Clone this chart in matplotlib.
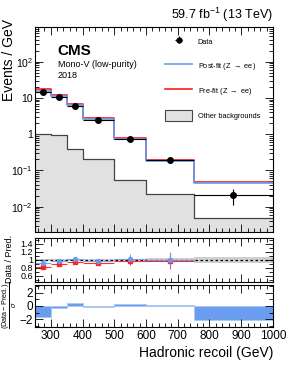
import matplotlib
matplotlib.use("Agg")
import matplotlib.pyplot as plt
import numpy as np
from matplotlib.ticker import FixedLocator, FuncFormatter, MultipleLocator, LogLocator, NullFormatter
from matplotlib.lines import Line2D
from matplotlib.patches import Patch

# bins in hadronic recoil (GeV)
edges = [250, 300, 350, 400, 500, 600, 750, 1000]

data = [15.0, 10.7, 6.0, 2.5, 0.75, 0.19, 0.021]
data_err = [0.6, 0.5, 0.35, 0.16, 0.09, 0.03, 0.01]
postfit = [16.0, 11.3, 6.3, 2.6, 0.74, 0.185, 0.044]
prefit = [18.0, 12.4, 6.6, 2.8, 0.78, 0.19, 0.048]
other_bkg = [1.0, 0.92, 0.39, 0.20, 0.054, 0.023, 0.0049]

ratio_pre = [0.83, 0.89, 0.95, 0.93, 0.98, 0.98]
ratio_pre_err = [0.03, 0.03, 0.05, 0.06, 0.10, 0.20]
ratio_post = [0.92, 0.97, 1.01, 0.97, 1.03, 1.00]
ratio_post_err = [0.03, 0.03, 0.05, 0.06, 0.12, 0.20]
unc_band = [0.02, 0.02, 0.02, 0.02, 0.03, 0.05, 0.07]

pulls = [-1.65, -0.3, 0.4, -0.15, 0.35, 0.1, -2.2]

edges = np.array(edges, dtype=float)
centers = 0.5 * (edges[1:] + edges[:-1])
halfw = 0.5 * (edges[1:] - edges[:-1])

blue = "#6a9cf0"
red = "#ff1a1a"

plt.rcParams["font.family"] = ["Liberation Sans", "DejaVu Sans"]
plt.rcParams["mathtext.fontset"] = "custom"
plt.rcParams["mathtext.rm"] = "Liberation Sans"
plt.rcParams["mathtext.it"] = "Liberation Sans:italic"

fig = plt.figure(figsize=(2.91, 3.76), dpi=100)
L, R = 0.120, 0.938
ax = fig.add_axes([L, 0.383, R - L, 0.928 - 0.383])
axr = fig.add_axes([L, 0.251, R - L, 0.367 - 0.251])
axp = fig.add_axes([L, 0.130, R - L, 0.243 - 0.130])


def step_vals(v):
    return np.append(v, v[-1])


# main panel
ax.fill_between(edges, step_vals(other_bkg), 1e-5, step="post", color="#e1e1e1", lw=0)
ax.step(edges, step_vals(other_bkg), where="post", color="#444444", lw=0.9)
ax.step(edges, step_vals(prefit), where="post", color=red, lw=1.2)
ax.step(edges, step_vals(postfit), where="post", color=blue, lw=1.2)
ax.errorbar(centers, data, xerr=halfw, yerr=data_err, fmt="o", color="black",
            ms=4, lw=0.8, capsize=0)
ax.set_yscale("log")
ax.set_xlim(250, 1000)
ax.set_ylim(2e-3, 9e2)


def logfmt(v, pos):
    e = int(round(np.log10(v)))
    if e == 0:
        return "1"
    if e == 1:
        return "10"
    return r"$10^{%d}$" % e


ax.yaxis.set_major_locator(FixedLocator([1e-2, 1e-1, 1, 10, 100]))
ax.yaxis.set_major_formatter(FuncFormatter(logfmt))
ax.yaxis.set_minor_locator(LogLocator(base=10, subs=np.arange(2, 10)))
ax.yaxis.set_minor_formatter(NullFormatter())
ax.set_xticklabels([])

# axis titles placed like the ROOT layout
fig.text(9 / 291, 1 - 19 / 376, "Events / GeV", rotation=90, ha="center", va="top", fontsize=10)
fig.text(10 / 291, 1 - 259 / 376, "Data / Pred.", rotation=90, ha="center", va="center", fontsize=6.5)
fig.text(10 / 291, 1 - 305 / 376, r"$\frac{\mathrm{(Data-Pred.)}}{\sigma}$", rotation=90,
         ha="center", va="center", fontsize=7.5)

# legend
h_data = ax.errorbar([], [], xerr=[], yerr=[], fmt="o", color="black", ms=3.5, lw=0.8)
h_post = Line2D([], [], color=blue, lw=1.2)
h_pre = Line2D([], [], color=red, lw=1.2)
h_bkg = Patch(facecolor="#e1e1e1", edgecolor="#444444", lw=0.8)
ax.legend([h_data, h_post, h_pre, h_bkg],
          ["Data", r"Post-fit (Z $\rightarrow$ ee)", r"Pre-fit (Z $\rightarrow$ ee)", "Other backgrounds"],
          loc="upper left", fontsize=5.3, frameon=False, labelspacing=1.75,
          handlelength=3.6, handleheight=2.0, handletextpad=0.8,
          bbox_to_anchor=(0.52, 0.99))

ax.text(0.095, 0.915, "CMS", transform=ax.transAxes, fontsize=11, fontweight="bold", va="top")
ax.text(0.095, 0.84, "Mono-V (low-purity)", transform=ax.transAxes, fontsize=6.5, va="top")
ax.text(0.095, 0.785, "2018", transform=ax.transAxes, fontsize=6.5, va="top")
fig.text(R, 0.935, r"59.7 fb$^{-1}$ (13 TeV)", ha="right", va="bottom", fontsize=9)

# ratio panel
for i in range(len(unc_band)):
    axr.fill_between([edges[i], edges[i + 1]], 1 - unc_band[i], 1 + unc_band[i],
                     color="#cfcfcf", lw=0)
axr.axhline(1, color="black", ls=(0, (2, 2)), lw=0.9)
n = len(ratio_pre)
axr.errorbar(centers[:n], ratio_pre, xerr=halfw[:n], yerr=ratio_pre_err, fmt="s",
             color=red, ms=2.8, lw=0.8, capsize=0, alpha=0.9)
axr.errorbar(centers[:n], ratio_post, xerr=halfw[:n], yerr=ratio_post_err, fmt="o",
             color=blue, ms=3.0, lw=0.8, capsize=0, alpha=0.9)
axr.set_xlim(250, 1000)
axr.set_ylim(0.45, 1.55)
axr.set_yticks([0.6, 0.8, 1.0, 1.2, 1.4])
axr.set_yticklabels(["0.6", "0.8", "1", "1.2", "1.4"])
axr.set_xticklabels([])

# pull panel
axp.bar(centers, pulls, width=2 * halfw, color=blue, edgecolor="#a9c6f5", lw=0.6)
axp.set_xlim(250, 1000)
axp.set_ylim(-3.2, 3.2)
axp.set_yticks([-2, 0, 2])
axp.set_xlabel("Hadronic recoil (GeV)", fontsize=10, loc="right", labelpad=3)

for a in (ax, axr, axp):
    a.tick_params(which="both", direction="in", top=True, right=True, labelsize=8)
    a.tick_params(which="major", length=6, width=0.6)
    a.tick_params(which="minor", length=3, width=0.6)
    a.xaxis.set_major_locator(MultipleLocator(100))
    a.xaxis.set_minor_locator(MultipleLocator(20))
    for s in a.spines.values():
        s.set_linewidth(0.8)
ax.tick_params(axis="y", labelsize=7.5, pad=1.5)
axr.tick_params(axis="y", labelsize=6.5, pad=1.5)
axp.tick_params(axis="y", labelsize=8.5, pad=1.5)
axr.yaxis.set_minor_locator(MultipleLocator(0.1))
axp.yaxis.set_minor_locator(MultipleLocator(1))
axp.tick_params(axis="x", labelsize=8.5, pad=2)

fig.savefig("out.png", dpi=100)
